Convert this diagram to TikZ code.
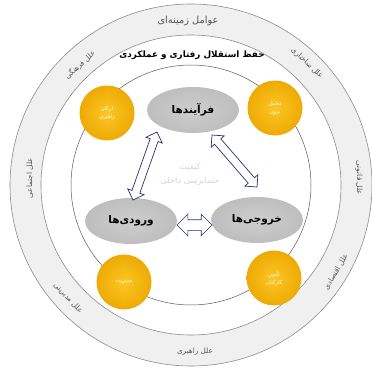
\documentclass[tikz,border=0pt]{standalone}
\usepackage{fontspec}
\usetikzlibrary{shapes.geometric,shapes.arrows,calc}
\TeXXeTstate=1
\newfontfamily\fa[Script=Arabic]{DejaVu Sans}
\definecolor{ringfill}{HTML}{F0F0F0}
\definecolor{ringline}{HTML}{8C8C8C}
\definecolor{innerline}{HTML}{5A5A5A}
\definecolor{goldin}{RGB}{252,198,36}
\definecolor{goldout}{RGB}{238,170,4}
\definecolor{grayin}{HTML}{CECECE}
\definecolor{grayout}{HTML}{BEBEBE}
\definecolor{navy}{HTML}{2B2F6E}
\definecolor{labgray}{HTML}{555555}
\tikzset{
  ringtext/.style={font=\fa\fontsize{7.3}{8}\selectfont, text=labgray, inner sep=0pt},
  goldball/.style={circle, minimum size=55pt, inner sep=0pt, inner color=goldin, outer color=goldout,
                   text=white, font=\fa\fontsize{5.3}{8}\selectfont, align=center},
  grayell/.style={ellipse, minimum width=92pt, minimum height=46pt, inner sep=0pt,
                  inner color=grayin, outer color=grayout, font=\fa\bfseries\fontsize{10.5}{12}\selectfont},
  arr/.style={double arrow, draw=navy, fill=white, line width=0.7pt, inner xsep=0pt, inner ysep=3.8pt,
              minimum width=0pt, double arrow head extend=4.5pt, double arrow head indent=0pt},
  arrbig/.style={arr, inner ysep=5pt, double arrow head extend=5.5pt}
}
\begin{document}
\begin{tikzpicture}[x=1pt,y=-1pt]
\useasboundingbox (0,0) rectangle (372,369);
\clip (0,0) rectangle (372,369);
\fill[white] (0,0) rectangle (372,369);
\coordinate (O) at (191,185);
% rings
\fill[ringfill, even odd rule] (O) circle (181pt) (O) circle (150pt);
\draw[ringline, line width=0.6pt] (O) circle (181pt);
\draw[ringline, line width=0.6pt] (O) circle (150pt);
\draw[innerline, line width=0.5pt] (O) circle (120pt);
% titles
\node[font=\fa\fontsize{9.8}{11}\selectfont, text=labgray] (ctx) at (188,21) {\beginR عوامل زمینه‌ای\endR};
\node[font=\fa\bfseries\fontsize{8.8}{10}\selectfont] (title) at (192,55) {\beginR حفظ استقلال رفتاری و عملکردی\endR};
% ring labels
\node[ringtext, rotate=43] (r1) at (80,65) {\beginR علل فرهنگی\endR};
\node[ringtext, rotate=-44] (r2) at (307,63) {\beginR علل ساختاری\endR};
\node[ringtext, rotate=90] (r3) at (30,178) {\beginR علل اجتماعی\endR};
\node[ringtext, rotate=-90] (r4) at (359,178) {\beginR علل قانونی\endR};
\node[ringtext, rotate=-47] (r5) at (68,298) {\beginR علل مدیریتی\endR};
\node[ringtext, rotate=59] (r6) at (336,272) {\beginR علل اقتصادی\endR};
\node[ringtext] (r7) at (195,352) {\beginR علل راهبری\endR};
% gold balls
\node[goldball] (g1) at (107,113) {\beginR ارکان\endR\\\beginR راهبری\endR};
\node[goldball] (g2) at (275,108) {\beginR تعامل\endR\\\beginR برون\endR};
\node[goldball] (g3) at (124,282) {\beginR مدیریت\endR};
\node[goldball] (g4) at (274,278) {\beginR تأمین\endR\\\beginR کارکنان\endR};
% center text
\node[font=\fa\fontsize{8.3}{14}\selectfont, text=black!16, align=center] (q) at (190,174)
  {\beginR کیفیت\endR\\\beginR حسابرسی داخلی\endR};
% ellipses
\node[grayell] (p) at (193,110) {\beginR فرآیندها\endR};
\node[grayell] (in) at (131,221) {\beginR ورودی‌ها\endR};
\node[grayell] (out) at (257,220) {\beginR خروجی‌ها\endR};
% arrow ends
\coordinate (a1) at (157,132);
\coordinate (a2) at (133,200);
\coordinate (b1) at (212,135);
\coordinate (b2) at (257,187);
\coordinate (c1) at (177,225);
\coordinate (c2) at (212,225);
\path let \p1=($(a2)-(a1)$), \n1={atan2(\y1,\x1)}, \n2={veclen(\x1,\y1)} in
  node[arr, rotate=\n1, minimum height=\n2] (pa) at ($(a1)!0.5!(a2)$) {};
\path let \p1=($(b2)-(b1)$), \n1={atan2(\y1,\x1)}, \n2={veclen(\x1,\y1)} in
  node[arr, rotate=\n1, minimum height=\n2] (pb) at ($(b1)!0.5!(b2)$) {};
\path let \p1=($(c2)-(c1)$), \n1={atan2(\y1,\x1)}, \n2={veclen(\x1,\y1)} in
  node[arrbig, rotate=\n1, minimum height=\n2] (pc) at ($(c1)!0.5!(c2)$) {};
\end{tikzpicture}
\end{document}
